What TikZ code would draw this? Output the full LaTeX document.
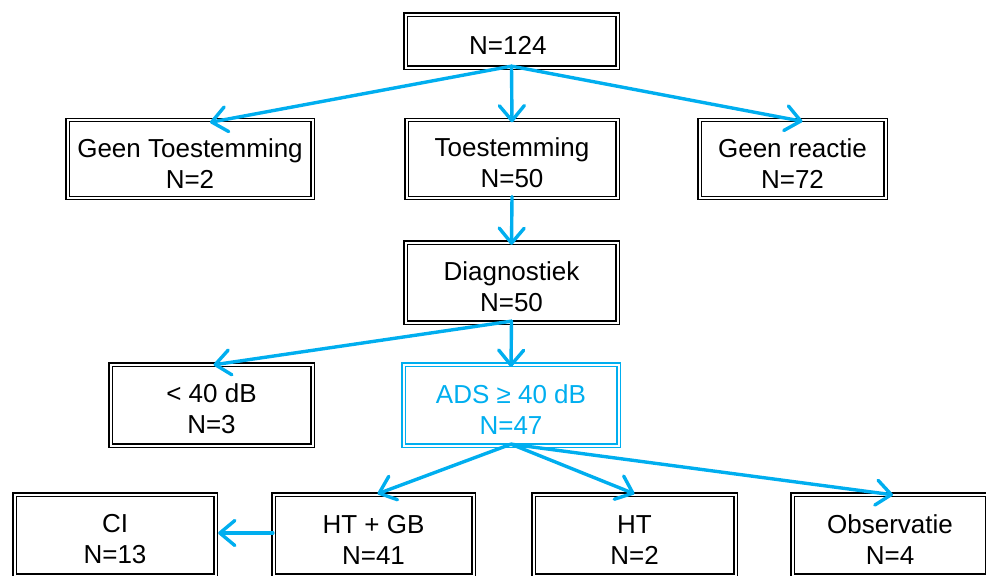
\documentclass[tikz,border=0pt]{standalone}
\usepackage{fontspec}
\setmainfont{Liberation Sans}
\usetikzlibrary{arrows.meta}
\definecolor{linkblue}{RGB}{0,174,239}
\newcommand{\boxtext}[2]{\rule{0pt}{27pt}#1\\#2}

\begin{document}
\begin{tikzpicture}[x=1pt, y=-1pt,
    box/.style={draw, double, line width=1.3pt, double distance=2pt, align=center,
      inner sep=0pt, minimum height=78pt, font=\fontsize{26}{31}\selectfont},
    link/.style={draw=linkblue, line width=3.4pt, line cap=round,
      -{Straight Barb[length=15pt,width=25pt,round]}}]
  \useasboundingbox (0,0) rectangle (986,576);

  \node [box, minimum width=212pt, minimum height=53pt] (total) at (511.5,41) { \rule{0pt}{27pt}N=124 };

  \node [box, minimum width=245pt] (geen) at (190,159) { \boxtext{Geen Toestemming}{N=2} };
  \node [box, minimum width=211pt] (toest) at (512,159) { \boxtext{Toestemming}{N=50} };
  \node [box, minimum width=186pt] (reactie) at (792.5,159) { \boxtext{Geen reactie}{N=72} };

  \node [box, minimum width=212pt, minimum height=80pt] (diag) at (511.5,282.5) { \boxtext{Diagnostiek}{N=50} };

  \node [box, minimum width=202pt, minimum height=81pt] (lt40) at (211.5,405) { \boxtext{< 40 dB}{N=3} };
  \node [box, draw=linkblue, text=linkblue, minimum width=215pt, minimum height=81pt] (ads) at (511,405) { \boxtext{ADS ≥ 40 dB}{N=47} };

  \node [box, minimum width=201pt, minimum height=81pt] (ci) at (115,535) { \boxtext{CI}{N=13} };
  \node [box, minimum width=200pt, minimum height=81pt] (htgb) at (373.5,535) { \boxtext{HT + GB}{N=41} };
  \node [box, minimum width=202pt, minimum height=81pt] (ht) at (634.5,535) { \boxtext{HT}{N=2} };
  \node [box, minimum width=195pt, minimum height=81pt] (obs) at (890,535) { \boxtext{Observatie}{N=4} };

  \draw [link] ([yshift=2pt]total.south) -- ([xshift=20pt,yshift=-3pt]geen.north);
  \draw [link] ([yshift=2pt]total.south) -- ([yshift=-3pt]toest.north);
  \draw [link] ([yshift=2pt]total.south) -- ([xshift=10pt,yshift=-2pt]reactie.north);

  \draw [link] ([yshift=2pt]toest.south) -- ([yshift=-3pt]diag.north);

  \draw [link] ([yshift=2pt]diag.south) -- ([xshift=2pt,yshift=-1pt]lt40.north);
  \draw [link] ([yshift=2pt]diag.south) -- ([yshift=-3pt]ads.north);

  \draw [link] ([yshift=2pt]ads.south) -- ([xshift=4pt]htgb.north);
  \draw [link] ([yshift=2pt]ads.south) -- (ht.north);
  \draw [link] ([yshift=2pt]ads.south) -- ([xshift=3pt,yshift=-1pt]obs.north);

  \draw [link] ([yshift=2pt]htgb.west) -- ([xshift=2pt,yshift=2pt]ci.east);
\end{tikzpicture}
\end{document}
